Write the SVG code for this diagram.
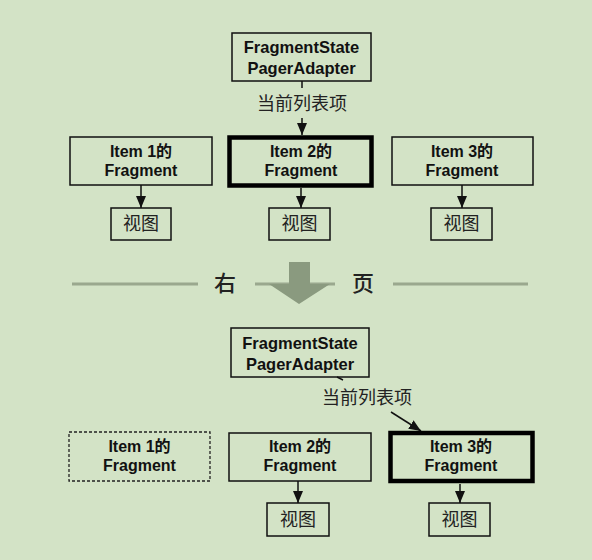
<svg xmlns="http://www.w3.org/2000/svg" width="592" height="560" viewBox="0 0 592 560">
<defs>
<style>
.bg{fill:#d3e3c6}
.box{fill:none;stroke:#111;stroke-width:1.5}
.thick{fill:none;stroke:#000;stroke-width:4.5}
.dash{fill:none;stroke:#222;stroke-width:1.3;stroke-dasharray:3 2}
.t{font-family:"Liberation Sans","Noto Sans CJK SC",sans-serif;font-weight:bold;font-size:16px;fill:#111;text-anchor:middle}
.ta{font-size:16.5px}
.cj{font-family:"Noto Sans CJK SC",sans-serif;font-size:18px;fill:#222;text-anchor:middle}
.big{font-family:"Noto Sans CJK SC",sans-serif;font-size:22px;fill:#222;text-anchor:middle;font-weight:500}
.ln{stroke:#111;stroke-width:1.5;fill:none}
.arr{stroke:#111;stroke-width:1.5;fill:none;marker-end:url(#ah)}
.div{stroke:#9aa88e;stroke-width:3}
</style>
<marker id="ah" viewBox="0 0 12 10" refX="12" refY="5" markerWidth="12" markerHeight="10" markerUnits="userSpaceOnUse" orient="auto">
<path d="M0,0 L12,5 L0,10 z" fill="#111"/>
</marker>
</defs>
<rect class="bg" x="0" y="0" width="592" height="560"/>

<g id="divider">
<line class="div" x1="72" y1="284" x2="198" y2="284"/>
<line class="div" x1="255" y1="284" x2="335" y2="284"/>
<line class="div" x1="393" y1="284" x2="528" y2="284"/>
<path d="M289,262 L310,262 L310,284 L330,284 L299,304 L269,284 L289,284 z" fill="#8a9a7f"/>
<text class="big" x="225" y="291">右</text>
<text class="big" x="363" y="291">页</text>
</g>

<g id="connectors">
<line class="ln" x1="302" y1="81" x2="302" y2="88"/>
<line class="arr" x1="302" y1="118" x2="302" y2="135"/>
<line class="arr" x1="141" y1="185" x2="141" y2="208"/>
<line class="arr" x1="301" y1="188" x2="301" y2="208"/>
<line class="arr" x1="462" y1="185" x2="462" y2="208"/>
<line class="ln" x1="337" y1="377" x2="343" y2="380"/>
<line class="arr" x1="391" y1="412" x2="421" y2="431"/>
<line class="arr" x1="298" y1="481" x2="298" y2="503"/>
<line class="arr" x1="460" y1="484" x2="460" y2="503"/>
</g>

<g id="adapter-top">
<rect class="box" x="232" y="33" width="139" height="48"/>
<text class="t ta" x="301.5" y="53">FragmentState</text>
<text class="t ta" x="301.5" y="74">PagerAdapter</text>
</g>
<g id="label-top"><text class="cj" x="302" y="110">当前列表项</text></g>

<g id="item1-top">
<rect class="box" x="70" y="137" width="142" height="48"/>
<text class="t" x="141" y="157">Item 1的</text>
<text class="t" x="141" y="176">Fragment</text>
</g>
<g id="item2-top">
<rect class="thick" x="229.5" y="137.5" width="142" height="48"/>
<text class="t" x="301" y="157">Item 2的</text>
<text class="t" x="301" y="176">Fragment</text>
</g>
<g id="item3-top">
<rect class="box" x="392" y="137" width="141" height="48"/>
<text class="t" x="462" y="157">Item 3的</text>
<text class="t" x="462" y="176">Fragment</text>
</g>

<g id="view1-top">
<rect class="box" x="111" y="208" width="60" height="32"/>
<text class="cj" x="141" y="230">视图</text>
</g>
<g id="view2-top">
<rect class="box" x="269" y="208" width="61" height="32"/>
<text class="cj" x="299.5" y="230">视图</text>
</g>
<g id="view3-top">
<rect class="box" x="431" y="208" width="61" height="32"/>
<text class="cj" x="461.5" y="230">视图</text>
</g>

<g id="adapter-bottom">
<rect class="box" x="231" y="328" width="138" height="49"/>
<text class="t ta" x="300" y="349">FragmentState</text>
<text class="t ta" x="300" y="370">PagerAdapter</text>
</g>
<g id="label-bottom"><text class="cj" x="367" y="404">当前列表项</text></g>

<g id="item1-bottom">
<rect class="dash" x="69" y="432" width="141" height="49"/>
<text class="t" x="139.5" y="452">Item 1的</text>
<text class="t" x="139.5" y="471">Fragment</text>
</g>
<g id="item2-bottom">
<rect class="box" x="229" y="433" width="142" height="48"/>
<text class="t" x="300" y="452">Item 2的</text>
<text class="t" x="300" y="471">Fragment</text>
</g>
<g id="item3-bottom">
<rect class="thick" x="390.5" y="433" width="142" height="48"/>
<text class="t" x="461" y="452">Item 3的</text>
<text class="t" x="461" y="471">Fragment</text>
</g>

<g id="view2-bottom">
<rect class="box" x="267" y="503" width="62" height="33"/>
<text class="cj" x="298" y="526">视图</text>
</g>
<g id="view3-bottom">
<rect class="box" x="429" y="503" width="61" height="33"/>
<text class="cj" x="459.5" y="526">视图</text>
</g>
</svg>
